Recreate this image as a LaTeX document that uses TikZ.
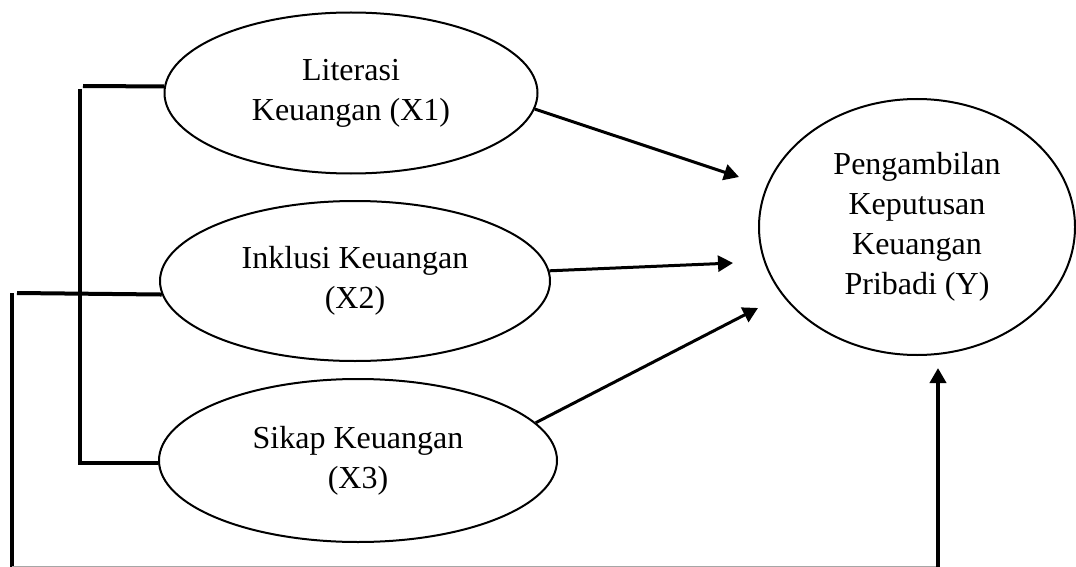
\documentclass[tikz,border=0pt]{standalone}
\usepackage{fontspec}
\setmainfont{Liberation Serif}
\usetikzlibrary{shapes.geometric,arrows.meta}
\def\lw{2pt}
\def\tip{{Triangle[length=7.5pt,width=8pt]}}
\tikzset{
	latent/.style={draw, ellipse, line width=1pt, inner sep=0pt, align=center, font=\fontsize{16}{20}\selectfont},
	conn/.style={line width=\lw},
	effect/.style={line width=1.5pt, -\tip}
}

\begin{document}
\begin{tikzpicture}[x=0.5pt,y=-0.5pt]
\useasboundingbox (0,0) rectangle (1076,567);
\node[latent, minimum width=186.5pt, minimum height=80.5pt] (X1) at (351,93) {Literasi\\Keuangan (X1)};
\node[latent, minimum width=195pt, minimum height=80pt] (X2) at (355,281) {Inklusi Keuangan\\(X2)};
\node[latent, minimum width=199pt, minimum height=81.5pt] (X3) at (358,460.5) {Sikap Keuangan\\(X3)};
\node[latent, minimum width=158pt, minimum height=128pt] (Y) at (917,227) {Pengambilan\\Keputusan\\Keuangan\\Pribadi (Y)};

\coordinate (T1) at (739,177);
\coordinate (T2) at (733,263);
\coordinate (T3) at (758,308);
\coordinate (TY) at (938,368);
\coordinate (L1) at (83,86);
\coordinate (V1) at (80,89);
\coordinate (V3) at (80,463);
\coordinate (L2) at (17,293);
\coordinate (V2) at (12,293);
\coordinate (BL) at (12,567);
\coordinate (BR) at (938,567);

\draw[effect] (X1.-5) -- (T1);
\draw[effect] (X2.3) -- (T2);
\draw[effect] (X3.12) -- (T3);
\draw[conn] (L1) -- (X1.178);
\draw[conn] (V1) -- (V3) -- (X3.west |- V3);
\draw[conn] (L2) -- (X2.184);
\draw[conn] (V2) -- (BL);
\draw[gray!70, line width=0.5pt] (BL) ++(0,-1) -- ([yshift=0.5pt]BR);
\draw[conn, -\tip] (BR) -- (TY);
\end{tikzpicture}
\end{document}
